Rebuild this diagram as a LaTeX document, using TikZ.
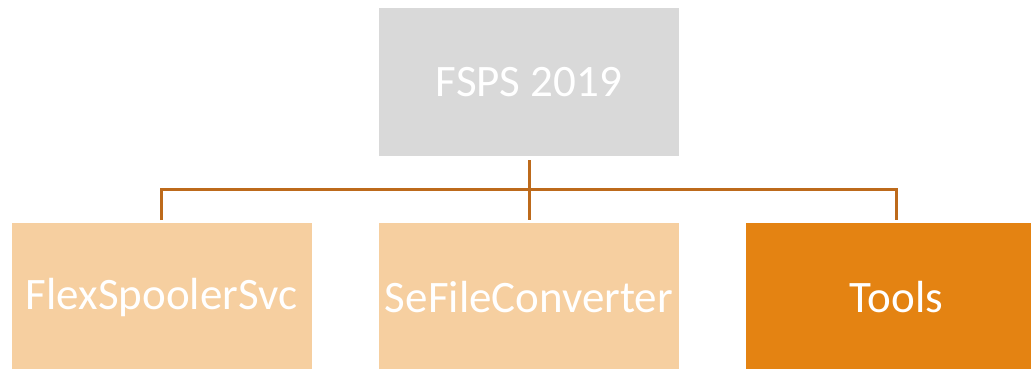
\documentclass[tikz,border=0pt]{standalone}
\usepackage{fontspec}
\setmainfont{Carlito}
\usetikzlibrary{positioning,calc}
\definecolor{grau}{HTML}{D9D9D9}
\definecolor{hellorange}{HTML}{F6CFA0}
\definecolor{orange}{HTML}{E48312}
\definecolor{linie}{HTML}{BD6A1B}

\begin{document}
\begin{tikzpicture}[x=1pt,y=-1pt, node distance=67pt and 67pt,
		kasten/.style={minimum width=300pt, minimum height=148pt, inner sep=0pt, text=white, font=\fontsize{45}{54}\selectfont},
		verb/.style={draw=linie, line width=3pt}] %Organigramm
			\useasboundingbox (0,0) rectangle (1031,368);

			\node[kasten, fill=grau] (fsps) at (529,82) {FSPS 2019};
			\node[kasten, fill=hellorange, below=of fsps] (conv) {SeFileConverter};
			\node[kasten, fill=hellorange, left=of conv] (spool) {FlexSpoolerSvc};
			\node[kasten, fill=orange, right=of conv] (tools) {Tools};

			\coordinate (bus) at ($(fsps.south)!.5!(conv.north)$);

			\draw[verb] ([yshift=-4pt]fsps.south) -- ([yshift=3pt]conv.north);
			\draw[verb] ([yshift=3pt]spool.north) |- (bus) -| ([yshift=3pt]tools.north);
		\end{tikzpicture}
\end{document}
